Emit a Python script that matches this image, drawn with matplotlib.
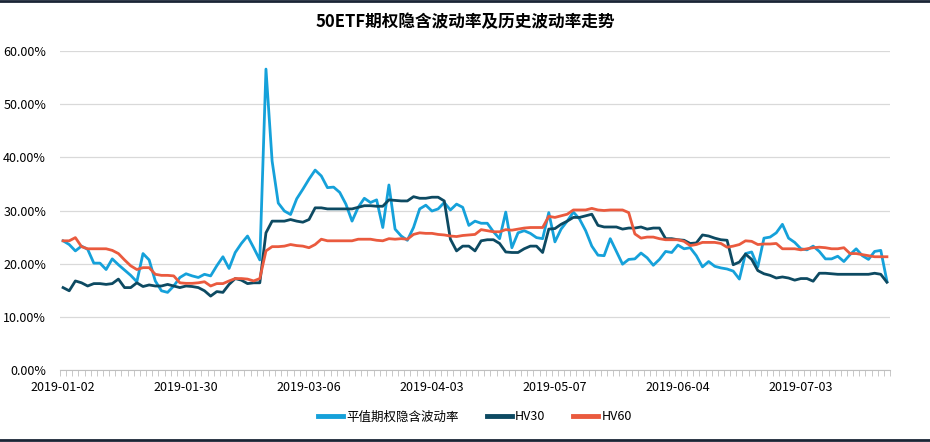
import numpy as np
import matplotlib
matplotlib.use("Agg")
import matplotlib.pyplot as plt
from matplotlib.ticker import FuncFormatter, FixedLocator
from matplotlib.lines import Line2D

plt.rcParams['font.family'] = ['Noto Sans CJK SC', 'DejaVu Sans']

# 平值期权隐含波动率 (%), one value per trading day 2019-01-02 .. 2019-07-23
iv = [24.3, 23.6, 22.4, 23.3, 22.7, 20.1, 20.1, 18.9, 20.9, 19.8,
      18.8, 17.8, 16.6, 21.9, 20.7, 16.75, 14.9, 14.6, 15.8, 17.4,
      18.1, 17.7, 17.4, 18.0, 17.7, 19.6, 21.3, 19.1, 22.1, 23.8,
      25.2, 23.0, 20.7, 56.6, 39.3, 31.4, 29.9, 29.25, 32.2, 34.0,
      35.9, 37.6, 36.5, 34.3,
      34.4, 33.4, 31.2, 28.0, 30.6, 32.3, 31.5, 32.0, 26.8, 34.8,
      26.5, 25.2, 24.4, 26.8, 30.3, 31.0, 29.9, 30.3, 31.5, 30.1,
      31.2, 30.6, 27.2, 28.0, 27.6, 27.6, 26.0, 24.7, 29.7, 23.0,
      25.8, 26.2, 25.7, 24.9, 24.7, 29.6, 24.1, 26.5, 28.0, 29.7,
      28.4, 26.2, 23.3, 21.6,
      21.5, 24.7, 22.3, 19.9, 20.8, 20.9, 22.0, 21.1, 19.7, 20.8,
      22.3, 22.1, 23.5, 22.8, 23.0, 21.5, 19.4, 20.4, 19.5, 19.2,
      19.0, 18.6, 17.1, 21.9, 22.2, 19.4, 24.8, 25.0, 25.8, 27.4,
      24.8, 24.0, 22.8, 22.6, 23.3, 22.3, 20.9, 20.9, 21.4, 20.4,
      21.7, 22.8, 21.5, 20.8, 22.3, 22.5, 16.7]

hv30 = [15.5, 14.9, 16.75, 16.4, 15.8, 16.25, 16.25, 16.1, 16.25, 17.1,
        15.5, 15.5, 16.4, 15.7, 16.0, 15.8, 15.8, 16.1, 15.8, 15.5,
        15.8, 15.7, 15.5, 14.9, 13.9, 14.75, 14.6, 16.1, 17.2, 16.9,
        16.25, 16.4, 16.4, 25.8, 28.0, 28.0, 28.0, 28.3, 28.0, 27.8,
        28.3, 30.5, 30.5, 30.3,
        30.3, 30.3, 30.3, 30.3, 30.6, 30.9, 30.9, 30.8, 30.8, 32.0,
        31.9, 31.8, 31.8, 32.6, 32.3, 32.3, 32.5, 32.5, 31.8, 24.6,
        22.4, 23.3, 23.3, 22.4, 24.3, 24.5, 24.5, 23.8, 22.2, 22.1,
        22.1, 22.8, 23.3, 23.3, 22.1, 26.5, 26.6, 27.4, 28.0, 28.7,
        28.7, 29.0, 29.3, 27.2,
        26.9, 26.9, 26.9, 26.5, 26.7, 26.7, 26.9, 26.5, 26.7, 26.7,
        24.7, 24.7, 24.5, 24.4, 23.8, 23.9, 25.4, 25.2, 24.8, 24.5,
        24.4, 19.8, 20.3, 21.8, 20.8, 18.7, 18.1, 17.8, 17.3, 17.5,
        17.3, 16.9, 17.2, 17.2, 16.7, 18.2, 18.2, 18.1, 18.0, 18.0,
        18.0, 18.0, 18.0, 18.0, 18.2, 18.0, 16.5]

hv60 = [24.3, 24.3, 24.9, 23.2, 22.8, 22.8, 22.8, 22.8, 22.5, 21.9,
        20.7, 19.6, 18.9, 19.25, 19.25, 18.0, 17.8, 17.8, 17.7, 16.4,
        16.3, 16.3, 16.4, 16.6, 15.8, 16.25, 16.25, 16.75, 17.2, 17.2,
        17.1, 16.75, 17.2, 22.4, 23.2, 23.2, 23.3, 23.6, 23.4, 23.3,
        23.0, 23.6, 24.6, 24.3,
        24.3, 24.3, 24.3, 24.3, 24.6, 24.6, 24.6, 24.4, 24.3, 24.7,
        24.6, 24.7, 24.6, 25.5, 25.8, 25.7, 25.7, 25.5, 25.4, 25.2,
        25.1, 25.3, 25.4, 25.5, 26.4, 26.2, 26.0, 26.0, 26.4, 26.3,
        26.5, 26.7, 26.8, 26.8, 26.8, 28.9, 28.7, 29.0, 29.3, 30.1,
        30.1, 30.1, 30.4, 30.1,
        30.0, 30.1, 30.1, 30.1, 29.6, 25.6, 24.8, 25.0, 25.0, 24.7,
        24.5, 24.5, 24.5, 24.2, 23.4, 23.6, 24.0, 24.0, 24.0, 23.8,
        23.1, 23.3, 23.6, 24.3, 24.2, 23.6, 23.7, 23.7, 23.8, 22.8,
        22.8, 22.8, 22.6, 22.8, 23.0, 23.1, 23.0, 22.8, 22.8, 23.0,
        21.9, 21.9, 21.7, 21.5, 21.3, 21.3, 21.3]

tick_pos = [0, 20, 40, 60, 80, 100, 120]
tick_labels = ['2019-01-02', '2019-01-30', '2019-03-06', '2019-04-03',
               '2019-05-07', '2019-06-04', '2019-07-03']

c_iv = '#15a1da'
c_hv30 = '#0d4a62'
c_hv60 = '#ea5a3e'

fig = plt.figure(figsize=(9.3, 4.42), dpi=100)
ax = fig.add_axes([60 / 930, 72 / 442, 830 / 930, 319 / 442])

x = np.arange(len(iv))
ax.plot(x, np.array(iv) / 100, color=c_iv, lw=2.0, label='平值期权隐含波动率', solid_joinstyle='round')
ax.plot(x, np.array(hv30) / 100, color=c_hv30, lw=2.0, label='HV30', solid_joinstyle='round')
ax.plot(x, np.array(hv60) / 100, color=c_hv60, lw=2.0, label='HV60', solid_joinstyle='round')

ax.set_xlim(-0.5, len(iv) - 0.5)
ax.set_ylim(0, 0.6)
ax.set_yticks(np.arange(0, 0.61, 0.1))
ax.yaxis.set_major_formatter(FuncFormatter(lambda v, p: '%.2f%%' % (v * 100)))
ax.grid(axis='y', color='#d9d9d9', lw=0.9)
ax.set_axisbelow(True)

ax.set_xticks(tick_pos)
ax.set_xticklabels(tick_labels)
ax.xaxis.set_minor_locator(FixedLocator(np.arange(-0.5, len(iv), 1)))
ax.tick_params(axis='x', which='major', length=0, pad=8, labelsize=9)
ax.tick_params(axis='x', which='minor', length=4, color='#bfbfbf', width=0.6)
ax.tick_params(axis='y', length=0, pad=10, labelsize=9)

for s in ['top', 'right', 'left']:
    ax.spines[s].set_visible(False)
ax.spines['bottom'].set_color('#bfbfbf')
ax.spines['bottom'].set_linewidth(0.8)

fig.text(0.5, 1 - 22 / 442, '50ETF期权隐含波动率及历史波动率走势', ha='center', va='center',
         fontsize=12, fontweight='bold')

handles = [Line2D([0], [0], color=c_iv, lw=3.5),
           Line2D([0], [0], color=c_hv30, lw=3.5),
           Line2D([0], [0], color=c_hv60, lw=3.5)]
fig.legend(handles, ['平值期权隐含波动率', 'HV30', 'HV60'], loc='center',
           bbox_to_anchor=(475 / 930, 1 - 417 / 442), ncol=3, frameon=False,
           fontsize=9, handlelength=2.0, handletextpad=0.3, columnspacing=2.2)

# dark frame lines at the top and bottom of the picture
fig.add_artist(Line2D([0, 1], [1 - 1 / 442, 1 - 1 / 442], color='#1a2535', lw=2.0))
fig.add_artist(Line2D([0, 1], [2 / 442, 2 / 442], color='#1a2535', lw=2.0))

fig.savefig('out.png', dpi=100)
